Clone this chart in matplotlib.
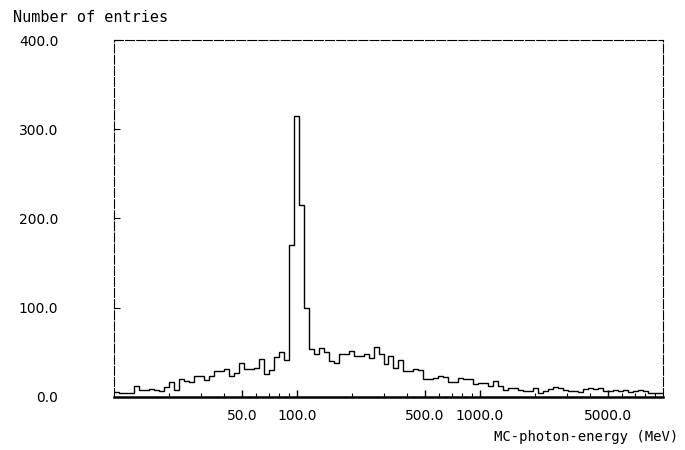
# MC photon energy spectrum, log x histogram
import numpy as np
import matplotlib.pyplot as plt
from matplotlib.ticker import FixedLocator, NullFormatter

# histogram range (MeV) and number of log bins
e_min, e_max, n_bins = 10.0, 10000.0, 110

# entries per bin (left to right)
entries = [6, 4, 4, 4, 12, 8, 8, 9, 8, 7,
           11, 17, 8, 20, 18, 17, 24, 24, 19, 24,
           29, 29, 31, 24, 27, 38, 31, 31, 33, 43,
           26, 30, 45, 50, 42, 170, 315, 215, 100, 54,
           48, 55, 50, 40, 38, 48, 48, 52, 46, 46,
           48, 44, 56, 48, 37, 46, 33, 41, 29, 29,
           31, 30, 20, 20, 21, 24, 22, 17, 17, 21,
           20, 20, 15, 16, 16, 12, 18, 12, 8, 10,
           10, 8, 7, 7, 10, 4, 7, 9, 11, 10,
           8, 7, 7, 6, 9, 10, 9, 10, 7, 7,
           8, 7, 8, 6, 7, 8, 7, 5, 4, 5]

xticks = [50, 100, 500, 1000, 5000]
xtick_labels = ['50.0', '100.0', '500.0', '1000.0', '5000.0']
yticks = [0, 100, 200, 300, 400]
ytick_labels = ['0.0', '100.0', '200.0', '300.0', '400.0']

edges = np.logspace(np.log10(e_min), np.log10(e_max), n_bins + 1)

fig = plt.figure(figsize=(6.85, 4.5), dpi=100)
ax = fig.add_axes([0.1664, 0.1178, 0.8015, 0.7933])

ax.stairs(entries, edges, baseline=None, color='black', linewidth=1.0)

ax.set_xscale('log')
ax.set_xlim(e_min, e_max)
ax.set_ylim(0, 400)

ax.xaxis.set_major_locator(FixedLocator(xticks))
ax.set_xticklabels(xtick_labels, fontsize=10)
minor = [v * d for d in (10, 100, 1000) for v in range(2, 10)]
ax.xaxis.set_minor_locator(FixedLocator(minor))
ax.xaxis.set_minor_formatter(NullFormatter())
ax.set_yticks(yticks)
ax.set_yticklabels(ytick_labels, fontsize=10)

ax.tick_params(axis='x', which='major', direction='in', length=5, width=1, pad=9)
ax.tick_params(axis='x', which='minor', direction='in', length=3, width=0.8)
ax.tick_params(axis='y', direction='in', length=4, width=0.8, pad=40)
ax.tick_params(top=False, right=False)

for side in ['top', 'left', 'right']:
    ax.spines[side].set_linestyle((0, (8, 2)))
    ax.spines[side].set_linewidth(0.8)
ax.spines['bottom'].set_linewidth(1.8)

fig.text(0.019, 0.96, 'Number of entries', family='DejaVu Sans Mono',
         fontsize=11, va='center', ha='left')
fig.text(0.99, 0.029, 'MC-photon-energy (MeV)', family='DejaVu Sans Mono',
         fontsize=10, va='center', ha='right')

fig.savefig('out.png', dpi=100)
